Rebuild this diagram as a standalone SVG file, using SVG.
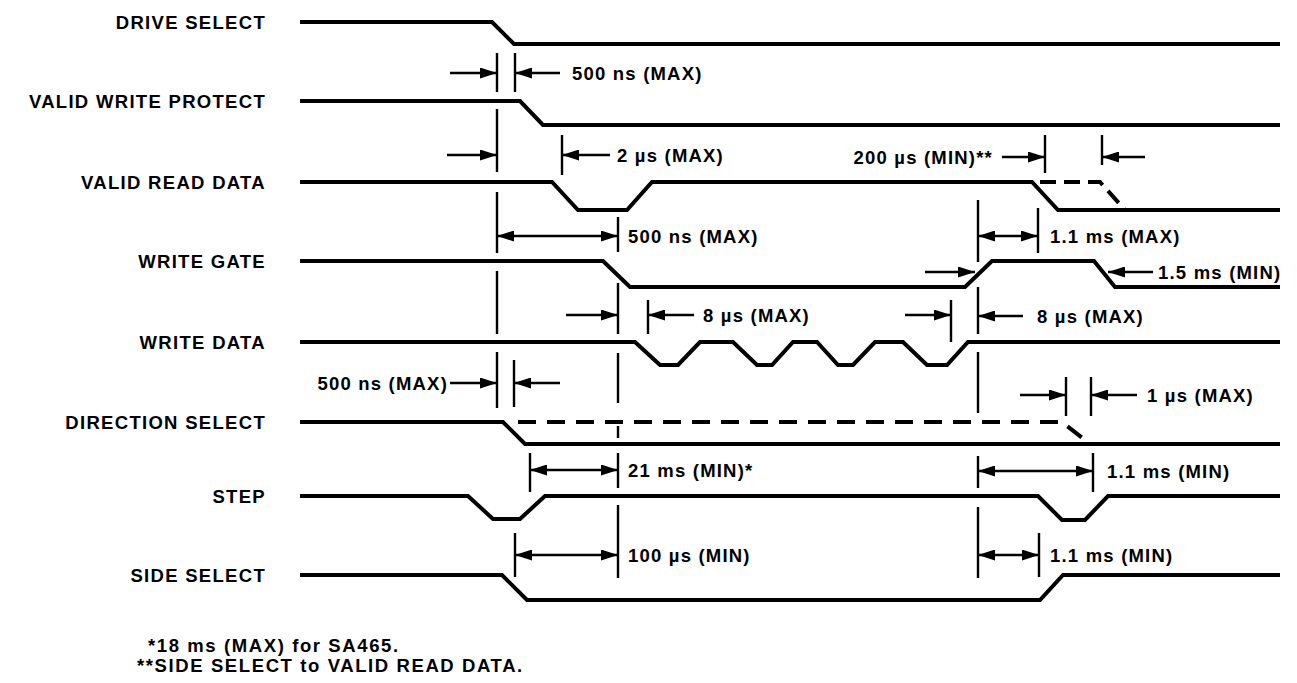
<svg xmlns="http://www.w3.org/2000/svg" width="1297" height="683" viewBox="0 0 1297 683">
<defs>
<style>
.bg{fill:#fff}
.sig{fill:none;stroke:#000;stroke-width:4;stroke-linejoin:miter;stroke-linecap:butt}
.dash{fill:none;stroke:#000;stroke-width:4;stroke-dasharray:18 11}
.dash2{fill:none;stroke:#000;stroke-width:4;stroke-dasharray:16 8}
.tk{fill:none;stroke:#000;stroke-width:2.4}
.ar{fill:none;stroke:#000;stroke-width:2.4;marker-end:url(#ah)}
.da{fill:none;stroke:#000;stroke-width:2.4;marker-end:url(#ah);marker-start:url(#ah)}
.lbl{font-family:"Liberation Sans",Arial,Helvetica,sans-serif;font-size:18.5px;font-weight:bold;letter-spacing:1.3px;fill:#000;text-anchor:end}
.t{font-family:"Liberation Sans",Arial,Helvetica,sans-serif;font-size:18.5px;font-weight:bold;letter-spacing:1.2px;fill:#000}
.fn{font-family:"Liberation Sans",Arial,Helvetica,sans-serif;font-size:18.5px;font-weight:bold;letter-spacing:1.6px;fill:#000}
</style>
<marker id="ah" viewBox="0 0 17 11" refX="17" refY="5.5" markerWidth="17" markerHeight="11" markerUnits="userSpaceOnUse" orient="auto-start-reverse"><path d="M0,0 L17,5.5 L0,11 z" fill="#000"/></marker>
</defs>
<rect class="bg" x="0" y="0" width="1297" height="683"/>

<g id="drive-select">
<text class="lbl" x="266" y="29">DRIVE SELECT</text>
<path class="sig" d="M300,22 H492 L514,44 H1280"/>
</g>
<g id="valid-write-protect">
<text class="lbl" x="266" y="108">VALID WRITE PROTECT</text>
<path class="sig" d="M300,101 H520 L543,125 H1280"/>
</g>
<g id="valid-read-data">
<text class="lbl" x="266" y="189">VALID READ DATA</text>
<path class="sig" d="M300,182 H552 L578,210 H627 L652,182 H1032 L1058,210 H1280"/>
<path class="dash2" d="M1040,182 H1100 L1125,210"/>
</g>
<g id="write-gate">
<text class="lbl" x="266" y="268">WRITE GATE</text>
<path class="sig" d="M300,261 H603 L630,287 H965 L992,261 H1094 L1115,287 H1280"/>
</g>
<g id="write-data">
<text class="lbl" x="266" y="349">WRITE DATA</text>
<path class="sig" d="M300,342 H635 L660,365 H678 L700,342 H733 L757,365 H772 L793,342 H817 L838,365 H853 L875,342 H903 L927,365 H947 L968,342 H1280"/>
</g>
<g id="direction-select">
<text class="lbl" x="266" y="429">DIRECTION SELECT</text>
<path class="sig" d="M300,422 H503 L525,444 H1280"/>
<path class="dash" d="M518,422 H1062 L1090,444"/>
</g>
<g id="step">
<text class="lbl" x="266" y="503">STEP</text>
<path class="sig" d="M300,496 H468 L493,519 H520 L545,496 H1038 L1062,520 H1085 L1108,496 H1280"/>
</g>
<g id="side-select">
<text class="lbl" x="266" y="582">SIDE SELECT</text>
<path class="sig" d="M300,575 H502 L527,600 H1040 L1063,575 H1280"/>
</g>

<g id="connectors">
<path class="tk" d="M497,53 V92 M497,109 V172 M497,192 V253 M497,271 V334 M497,352 V408"/>
<path class="tk" d="M618,217 V252 M618,283 V334 M618,353 V403 M618,426 V438 M618,453 V488 M618,505 V578"/>
<path class="tk" d="M978,200 V262 M978,287 V334 M978,352 V413 M978,456 V488 M978,507 V578"/>
<path class="tk" d="M515,53 V92 M562,135 V175 M1045,135 V173 M1102,135 V165 M1038,208 V253 M648,300 V334 M951,300 V342 M514,360 V407 M1066,377 V416 M1091,377 V416 M530,453 V492 M1093,453 V492 M515,533 V577 M1039,533 V577"/>
<path class="ar" d="M450,73 H497"/>
<path class="ar" d="M560,73 H515"/>
<path class="ar" d="M447,155 H497"/>
<path class="ar" d="M610,155 H562"/>
<path class="ar" d="M1002,157 H1045"/>
<path class="ar" d="M1145,157 H1102"/>
<path class="ar" d="M925,272 H975"/>
<path class="ar" d="M1153,272 H1108"/>
<path class="ar" d="M566,315 H618"/>
<path class="ar" d="M694,315 H648"/>
<path class="ar" d="M905,315 H951"/>
<path class="ar" d="M1023,316 H978"/>
<path class="ar" d="M450,383 H497"/>
<path class="ar" d="M560,383 H514"/>
<path class="ar" d="M1020,395 H1066"/>
<path class="ar" d="M1137,395 H1091"/>
<path class="da" d="M497,236 H618"/>
<path class="da" d="M978,236 H1038"/>
<path class="da" d="M530,470 H618"/>
<path class="da" d="M978,471 H1093"/>
<path class="da" d="M515,555 H618"/>
<path class="da" d="M978,555 H1039"/>
</g>

<g id="annotations">
<text class="t" x="572" y="80">500 ns (MAX)</text>
<text class="t" x="617" y="162">2 µs (MAX)</text>
<text class="t" x="993" y="164" text-anchor="end">200 µs (MIN)**</text>
<text class="t" x="628" y="243">500 ns (MAX)</text>
<text class="t" x="1050" y="243">1.1 ms (MAX)</text>
<text class="t" x="1158" y="279">1.5 ms (MIN)</text>
<text class="t" x="703" y="322">8 µs (MAX)</text>
<text class="t" x="1037" y="323">8 µs (MAX)</text>
<text class="t" x="448" y="390" text-anchor="end">500 ns (MAX)</text>
<text class="t" x="1147" y="402">1 µs (MAX)</text>
<text class="t" x="628" y="477">21 ms (MIN)*</text>
<text class="t" x="1107" y="478">1.1 ms (MIN)</text>
<text class="t" x="628" y="562">100 µs (MIN)</text>
<text class="t" x="1050" y="562">1.1 ms (MIN)</text>
<text class="fn" x="148" y="652">*18 ms (MAX) for SA465.</text>
<text class="fn" x="137" y="672">**SIDE SELECT to VALID READ DATA.</text>
</g>
</svg>
